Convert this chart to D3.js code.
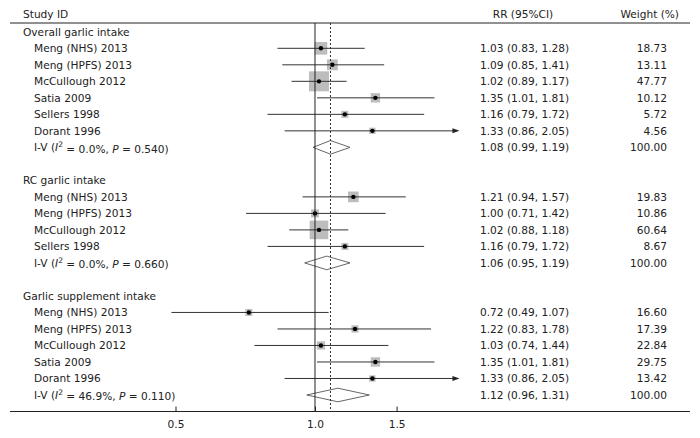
<!DOCTYPE html>
<html>
<head>
<meta charset="utf-8">
<script src="https://cdn.jsdelivr.net/npm/d3@7"></script>
<style>
  html, body { margin: 0; padding: 0; background: #fff; }
  svg { display: block; }
  text { font-family: "DejaVu Sans", Verdana, sans-serif; font-size: 10.6px; fill: #222; }
</style>
</head>
<body>
<svg id="chart" width="700" height="438"></svg>
<script>
// ---------------- data ----------------
const groupNames = ["Overall garlic intake", "RC garlic intake", "Garlic supplement intake"];

const studyGroup = [0, 0, 0, 0, 0, 0, 1, 1, 1, 1, 2, 2, 2, 2, 2];
const studyNames = [
  "Meng (NHS) 2013", "Meng (HPFS) 2013", "McCullough 2012", "Satia 2009", "Sellers 1998", "Dorant 1996",
  "Meng (NHS) 2013", "Meng (HPFS) 2013", "McCullough 2012", "Sellers 1998",
  "Meng (NHS) 2013", "Meng (HPFS) 2013", "McCullough 2012", "Satia 2009", "Dorant 1996"
];
const studyRR    = [1.03, 1.09, 1.02, 1.35, 1.16, 1.33, 1.21, 1.00, 1.02, 1.16, 0.72, 1.22, 1.03, 1.35, 1.33];
const studyLower = [0.83, 0.85, 0.89, 1.01, 0.79, 0.86, 0.94, 0.71, 0.88, 0.79, 0.49, 0.83, 0.74, 1.01, 0.86];
const studyUpper = [1.28, 1.41, 1.17, 1.81, 1.72, 2.05, 1.57, 1.42, 1.18, 1.72, 1.07, 1.78, 1.44, 1.81, 2.05];
const studyWeight = ["18.73", "13.11", "47.77", "10.12", "5.72", "4.56",
                     "19.83", "10.86", "60.64", "8.67",
                     "16.60", "17.39", "22.84", "29.75", "13.42"];

const pooledRR    = [1.08, 1.06, 1.12];
const pooledLower = [0.99, 0.95, 0.96];
const pooledUpper = [1.19, 1.19, 1.31];
const pooledI2    = ["0.0%", "0.0%", "46.9%"];
const pooledP     = ["0.540", "0.660", "0.110"];
const pooledWeight = ["100.00", "100.00", "100.00"];

const referenceRR = 1.08;           // dashed line (overall pooled estimate)
const tickValues = [0.5, 1.0, 1.5];
const tickLabels = ["0.5", "1.0", "1.5"];
const arrowLimit = 2.0;             // CIs beyond this get an arrow head

// ---------------- layout ----------------
const svg = d3.select("#chart");
const fmt = d3.format(".2f");

// build rows
const rows = [];
groupNames.forEach((g, gi) => {
  rows.push({ type: "group", label: g });
  studyGroup.forEach((sg, i) => {
    if (sg === gi) rows.push({ type: "study", label: studyNames[i], rr: studyRR[i], lo: studyLower[i], hi: studyUpper[i], w: studyWeight[i] });
  });
  rows.push({ type: "pooled", gi, rr: pooledRR[gi], lo: pooledLower[gi], hi: pooledUpper[gi], i2: pooledI2[gi], p: pooledP[gi], w: pooledWeight[gi] });
  if (gi < groupNames.length - 1) rows.push({ type: "blank" });
});

const y = d3.scaleLinear().domain([0, rows.length]).range([31.8, 411.5]);
const x = d3.scaleLog().domain([0.5, 1.5]).range([175.5, 396.6]);

const axisY = y(rows.length);
const headerLineY = 23;
const leftEdge = 10, rightEdge = 690;

// inverse-variance based box size
const ivs = rows.filter(r => r.type === "study").map(r => Math.pow(3.92 / Math.log(r.hi / r.lo), 2));
const boxSize = d3.scaleSqrt().domain([0, d3.max(ivs)]).range([0, 20]);

// header
svg.append("text").attr("x", 23).attr("y", 14).attr("dy", "0.35em").text("Study ID");
svg.append("text").attr("x", 523).attr("y", 14).attr("dy", "0.35em").attr("text-anchor", "middle").text("RR (95%CI)");
svg.append("text").attr("x", 679).attr("y", 14).attr("dy", "0.35em").attr("text-anchor", "end").text("Weight (%)");

svg.append("line").attr("x1", leftEdge).attr("x2", rightEdge).attr("y1", headerLineY).attr("y2", headerLineY)
  .attr("stroke", "#222").attr("stroke-width", 1);

// rows
rows.forEach((r, i) => {
  const yy = y(i);
  if (r.type === "group") {
    svg.append("text").attr("x", 23).attr("y", yy).attr("dy", "0.35em").text(r.label);
  } else if (r.type === "study") {
    svg.append("text").attr("x", 34).attr("y", yy).attr("dy", "0.35em").text(r.label);
    const s = boxSize(Math.pow(3.92 / Math.log(r.hi / r.lo), 2));
    svg.append("rect").attr("x", x(r.rr) - s / 2).attr("y", yy - s / 2).attr("width", s).attr("height", s)
      .attr("fill", "#bdbdbd");
    svg.append("line").attr("x1", x(r.lo)).attr("x2", x(r.hi) - (r.hi > arrowLimit ? 5 : 0))
      .attr("y1", yy).attr("y2", yy).attr("stroke", "#333").attr("stroke-width", 1);
    if (r.hi > arrowLimit) {
      const xe = x(r.hi);
      svg.append("path").attr("d", `M${xe},${yy} L${xe - 7},${yy - 2.5} L${xe - 7},${yy + 2.5} Z`).attr("fill", "#222");
    }
    svg.append("circle").attr("cx", x(r.rr)).attr("cy", yy).attr("r", 2.2).attr("fill", "#000");
    svg.append("text").attr("x", 480).attr("y", yy).attr("dy", "0.35em")
      .text(`${fmt(r.rr)} (${fmt(r.lo)}, ${fmt(r.hi)})`);
    svg.append("text").attr("x", 667).attr("y", yy).attr("dy", "0.35em").attr("text-anchor", "end").text(r.w);
  } else if (r.type === "pooled") {
    const t = svg.append("text").attr("x", 34).attr("y", yy).attr("dy", "0.35em");
    t.append("tspan").text("I-V (");
    t.append("tspan").attr("font-style", "italic").text("I");
    t.append("tspan").attr("font-size", "7.5px").attr("dy", "-0.5em").text("2");
    t.append("tspan").attr("dy", "0.5em").text(" = " + r.i2 + ", ");
    t.append("tspan").attr("font-style", "italic").text("P");
    t.append("tspan").text(" = " + r.p + ")");
    const h = 6.8;
    svg.append("path")
      .attr("d", `M${x(r.lo)},${yy} L${x(r.rr)},${yy - h} L${x(r.hi)},${yy} L${x(r.rr)},${yy + h} Z`)
      .attr("fill", "#fff").attr("stroke", "#555").attr("stroke-width", 0.9);
    svg.append("text").attr("x", 480).attr("y", yy).attr("dy", "0.35em")
      .text(`${fmt(r.rr)} (${fmt(r.lo)}, ${fmt(r.hi)})`);
    svg.append("text").attr("x", 667).attr("y", yy).attr("dy", "0.35em").attr("text-anchor", "end").text(r.w);
  }
});

// reference lines drawn over the marks (as in reference)
svg.append("line").attr("x1", x(referenceRR)).attr("x2", x(referenceRR)).attr("y1", headerLineY).attr("y2", axisY)
  .attr("stroke", "#333").attr("stroke-width", 1).attr("stroke-dasharray", "2,2");
svg.append("line").attr("x1", x(1)).attr("x2", x(1)).attr("y1", headerLineY).attr("y2", axisY)
  .attr("stroke", "#222").attr("stroke-width", 1);

// axis
const axis = d3.axisTop(x).tickValues(tickValues).tickFormat((d, i) => tickLabels[i]).tickSize(5).tickSizeOuter(0);
const ag = svg.append("g").attr("transform", `translate(0,${axisY})`).call(axis);
ag.select(".domain").remove();
ag.selectAll(".tick line").attr("stroke", "#222");
ag.selectAll(".tick text").attr("y", 13).attr("dy", "0.35em").style("font-size", "10.6px")
  .style("font-family", '"DejaVu Sans", Verdana, sans-serif').attr("fill", "#222");
svg.append("line").attr("x1", leftEdge).attr("x2", rightEdge).attr("y1", axisY).attr("y2", axisY)
  .attr("stroke", "#222").attr("stroke-width", 1);
</script>
</body>
</html>
